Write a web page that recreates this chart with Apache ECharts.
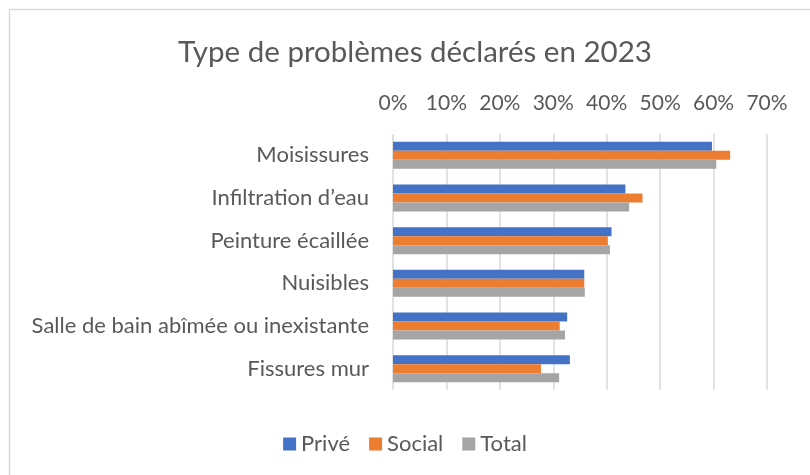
<!DOCTYPE html>
<html>
<head>
<meta charset="utf-8">
<title>Type de problèmes déclarés en 2023</title>
<script src="https://cdn.jsdelivr.net/npm/echarts@6/dist/echarts.min.js"></script>
<style>
    html, body { margin: 0; padding: 0; background: #fff; }
    #chart { width: 810px; height: 475px; }
</style>
</head>
<body>
<div id="chart"></div>
<script>
// 数据
const categories = ['Moisissures', 'Infiltration d\u2019eau', 'Peinture écaillée', 'Nuisibles', 'Salle de bain abîmée ou inexistante', 'Fissures mur'];
const prive = [59.7, 43.5, 40.9, 35.8, 32.6, 33.1];
const social = [63.1, 46.7, 40.2, 35.8, 31.2, 27.7];
const total = [60.5, 44.2, 40.6, 35.9, 32.2, 31.1];

const textColor = '#595959';
const fontFamily = 'Lato, "Open Sans", sans-serif';

const chart = echarts.init(document.getElementById('chart'));

const option = {
    animation: false,
    textStyle: { fontFamily: fontFamily },
    title: {
        text: 'Type de problèmes déclarés en 2023',
        left: 173,
        top: 32,
        textStyle: { color: textColor, fontSize: 29.5, fontWeight: 'normal', fontFamily: fontFamily }
    },
    legend: {
        data: ['Privé', 'Social', 'Total'],
        top: 428,
        left: 'center',
        itemWidth: 13,
        itemHeight: 13,
        itemGap: 19,
        icon: 'rect',
        textStyle: { color: textColor, fontSize: 22, fontFamily: fontFamily }
    },
    graphic: [
        {
            type: 'rect',
            shape: { x: 9.5, y: 9.5, width: 900, height: 600 },
            style: { fill: 'none', stroke: '#d9d9d9', lineWidth: 1.5 },
            silent: true
        }
    ],
    grid: {
        left: 393,
        right: 43,
        top: 134,
        bottom: 85
    },
    xAxis: {
        type: 'value',
        position: 'top',
        min: 0,
        max: 70,
        interval: 10,
        axisLine: { show: false },
        axisTick: { show: false },
        axisLabel: {
            formatter: '{value}%',
            color: textColor,
            fontSize: 21,
            margin: 20,
            fontFamily: fontFamily
        },
        splitLine: { lineStyle: { color: '#d9d9d9', width: 1.5 } }
    },
    yAxis: {
        type: 'category',
        inverse: true,
        data: categories,
        axisLine: { show: false },
        axisTick: { show: false },
        axisLabel: {
            color: textColor,
            fontSize: 22,
            margin: 24,
            fontFamily: fontFamily
        }
    },
    series: [
        { name: 'Privé', type: 'bar', data: prive, barWidth: 9, barGap: 0, itemStyle: { color: '#4472c4' } },
        { name: 'Social', type: 'bar', data: social, barWidth: 9, barGap: 0, itemStyle: { color: '#ed7d31' } },
        { name: 'Total', type: 'bar', data: total, barWidth: 9, barGap: 0, itemStyle: { color: '#a5a5a5' } }
    ]
};

chart.setOption(option);
</script>
</body>
</html>
